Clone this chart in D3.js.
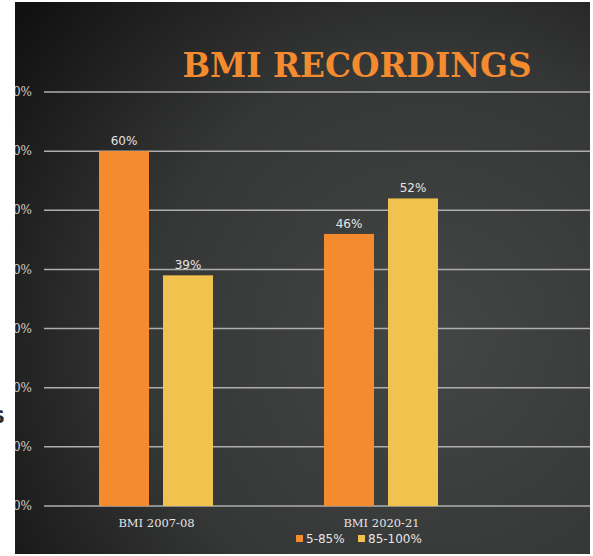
<!DOCTYPE html>
<html>
<head>
<meta charset="utf-8">
<script src="https://cdn.jsdelivr.net/npm/d3@7"></script>
<style>
  body { margin: 0; background: #ffffff; }
  svg { display: block; }
</style>
</head>
<body>
<div id="chart"></div>
<script>
// chart data
let categories = ["BMI 2007-08", "BMI 2020-21"]
let seriesNames = ["5-85%", "85-100%"]
let lowerRange = [60, 46]
let upperRange = [39, 52]
let yTicks = [0, 10, 20, 30, 40, 50, 60, 70]

let width = 593
let height = 556
let colors = { "5-85%": "#f48b2f", "85-100%": "#f2c24f" }

let svg = d3.select("#chart")
  .append("svg")
  .attr("width", width)
  .attr("height", height)

// background gradient
let defs = svg.append("defs")
let grad = defs.append("radialGradient")
  .attr("id", "bg")
  .attr("gradientUnits", "userSpaceOnUse")
  .attr("cx", 430).attr("cy", 340).attr("r", 520)
grad.append("stop").attr("offset", "0%").attr("stop-color", "#444545")
grad.append("stop").attr("offset", "55%").attr("stop-color", "#353636")
grad.append("stop").attr("offset", "100%").attr("stop-color", "#111111")

svg.append("rect")
  .attr("x", 0).attr("y", 0)
  .attr("width", width).attr("height", height)
  .attr("fill", "url(#bg)")

// scales
let y = d3.scaleLinear().domain([0, 70]).range([506, 92])
let x0 = d3.scaleBand().domain(categories).range([44, 494])
let x1 = d3.scaleBand().domain(seriesNames).range([55, 169]).paddingInner(0.21875)

let rows = categories.map(function(c, i) {
  return { category: c, values: [
    { key: seriesNames[0], value: lowerRange[i] },
    { key: seriesNames[1], value: upperRange[i] }
  ]}
})

// gridlines
svg.append("g")
  .selectAll("line")
  .data(yTicks)
  .enter().append("line")
  .attr("x1", 44).attr("x2", 590)
  .attr("y1", d => y(d)).attr("y2", d => y(d))
  .attr("stroke", "#aeaeae")
  .attr("stroke-width", 1.5)

// y tick labels (mostly hidden by the left edge)
svg.append("g")
  .selectAll("text")
  .data(yTicks)
  .enter().append("text")
  .attr("x", 32)
  .attr("y", d => y(d))
  .attr("dy", "0.35em")
  .attr("text-anchor", "end")
  .style("font-family", "'DejaVu Serif', serif")
  .style("font-size", "12px")
  .style("fill", "#d0d0d0")
  .text(d => d + "%")

// bars
let groups = svg.append("g")
  .selectAll("g")
  .data(rows)
  .enter().append("g")
  .attr("transform", d => "translate(" + x0(d.category) + ",0)")

groups.selectAll("rect")
  .data(d => d.values)
  .enter().append("rect")
  .attr("x", d => x1(d.key))
  .attr("y", d => y(d.value))
  .attr("width", x1.bandwidth())
  .attr("height", d => y(0) - y(d.value))
  .attr("fill", d => colors[d.key])

groups.selectAll("text")
  .data(d => d.values)
  .enter().append("text")
  .attr("x", d => x1(d.key) + x1.bandwidth() / 2)
  .attr("y", d => y(d.value) - 6)
  .attr("text-anchor", "middle")
  .style("font-family", "'DejaVu Sans', sans-serif")
  .style("font-size", "12px")
  .style("fill", "#e6e6e6")
  .text(d => d.value + "%")

// category labels
svg.append("g")
  .selectAll("text")
  .data(categories)
  .enter().append("text")
  .attr("x", d => x0(d) + x0.bandwidth() / 2)
  .attr("y", 527)
  .attr("text-anchor", "middle")
  .style("font-family", "'DejaVu Serif', serif")
  .style("font-size", "11.5px")
  .style("fill", "#e6e6e6")
  .text(d => d)

// legend
let legendX = [296, 358]
let legend = svg.append("g")
  .selectAll("g")
  .data(seriesNames)
  .enter().append("g")
  .attr("transform", (d, i) => "translate(" + legendX[i] + ",535)")

legend.append("rect")
  .attr("width", 7).attr("height", 7)
  .attr("fill", d => colors[d])

legend.append("text")
  .attr("x", 10)
  .attr("y", 8)
  .style("font-family", "'DejaVu Sans', sans-serif")
  .style("font-size", "12px")
  .style("fill", "#e6e6e6")
  .text(d => d)

// title
svg.append("text")
  .attr("x", 357)
  .attr("y", 77)
  .attr("text-anchor", "middle")
  .attr("textLength", 349)
  .attr("lengthAdjust", "spacingAndGlyphs")
  .style("font-family", "'DejaVu Serif', serif")
  .style("font-weight", "bold")
  .style("font-size", "33px")
  .style("fill", "#f48b2f")
  .text("BMI RECORDINGS")

// white page edges around the dark slide
svg.append("rect").attr("x", 0).attr("y", 0).attr("width", 15).attr("height", height).attr("fill", "#ffffff")
svg.append("rect").attr("x", 590).attr("y", 0).attr("width", 3).attr("height", height).attr("fill", "#ffffff")
svg.append("rect").attr("x", 0).attr("y", 0).attr("width", width).attr("height", 2).attr("fill", "#ffffff")
svg.append("rect").attr("x", 0).attr("y", 554).attr("width", width).attr("height", 2).attr("fill", "#ffffff")

svg.append("text")
  .attr("x", 5)
  .attr("y", 423)
  .attr("text-anchor", "end")
  .style("font-family", "'DejaVu Sans', sans-serif")
  .style("font-weight", "bold")
  .style("font-size", "18px")
  .style("fill", "#2a2a2a")
  .text("S")
</script>
</body>
</html>
